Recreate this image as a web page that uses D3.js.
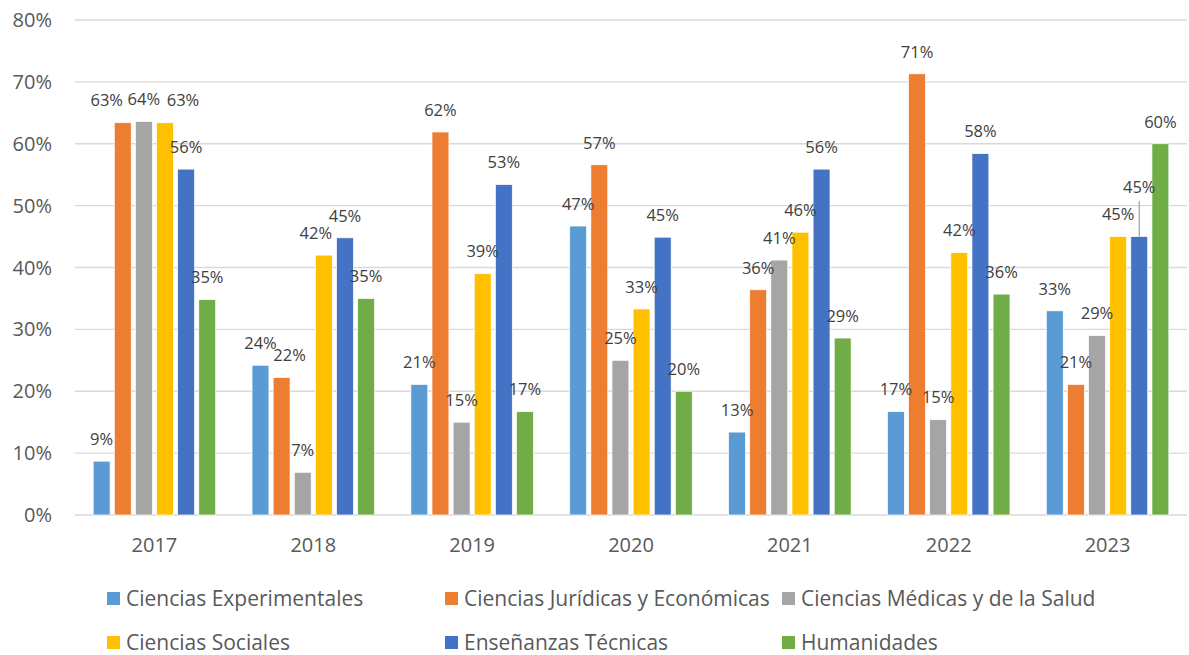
<!DOCTYPE html>
<html>
<head>
<meta charset="utf-8">
<script src="https://cdn.jsdelivr.net/npm/d3@7"></script>
<style>
  body { margin: 0; background: #fff; }
  svg text { font-family: "Open Sans", sans-serif; }
</style>
</head>
<body>
<script>
// Data
const years = ["2017", "2018", "2019", "2020", "2021", "2022", "2023"];
const seriesNames = [
  "Ciencias Experimentales",
  "Ciencias Jurídicas y Económicas",
  "Ciencias Médicas y de la Salud",
  "Ciencias Sociales",
  "Enseñanzas Técnicas",
  "Humanidades"
];
const experimentales = [0.087, 0.242, 0.211, 0.467, 0.134, 0.167, 0.330];
const juridicas      = [0.634, 0.222, 0.619, 0.566, 0.364, 0.713, 0.211];
const medicas        = [0.636, 0.069, 0.150, 0.250, 0.412, 0.154, 0.290];
const sociales       = [0.634, 0.420, 0.390, 0.333, 0.457, 0.424, 0.450];
const tecnicas       = [0.559, 0.448, 0.534, 0.449, 0.559, 0.584, 0.450];
const humanidades    = [0.348, 0.350, 0.167, 0.200, 0.286, 0.357, 0.600];
const yTicks = [0, 0.1, 0.2, 0.3, 0.4, 0.5, 0.6, 0.7, 0.8];

const colors = ["#5b9bd5", "#ed7d31", "#a5a5a5", "#ffc000", "#4472c4", "#70ad47"];
const allValues = [experimentales, juridicas, medicas, sociales, tecnicas, humanidades];

// label nudges where Excel moved labels to avoid overlap
const nudges = {
  "1-2017": { dx: -16, dy: 0 },
  "3-2017": { dx: 18, dy: 0 },
  "1-2018": { dx: 8, dy: 0 },
  "3-2018": { dx: -8, dy: 0 },
  "4-2023": { dx: 0, dy: -27, leader: true }
};

const svgWidth = 1189, svgHeight = 655;
const plot = { left: 75, right: 1187, top: 20, bottom: 515 };

const svg = d3.select("body").append("svg")
  .attr("width", svgWidth)
  .attr("height", svgHeight);

const y = d3.scaleLinear().domain([0, 0.8]).range([plot.bottom, plot.top]);
const x0 = d3.scaleBand().domain(years).range([plot.left, plot.right]).padding(0);
const x1 = d3.scaleBand().domain(d3.range(seriesNames.length))
  .range([0, x0.bandwidth()])
  .paddingInner(0.2)
  .paddingOuter(0.86);

const pct = d3.format(".0%");

// gridlines
svg.append("g").selectAll("line")
  .data(yTicks)
  .enter().append("line")
  .attr("x1", plot.left).attr("x2", plot.right)
  .attr("y1", d => y(d)).attr("y2", d => y(d))
  .attr("stroke", "#d9d9d9")
  .attr("stroke-width", 1.3);

// y tick labels
svg.append("g").selectAll("text")
  .data(yTicks)
  .enter().append("text")
  .attr("x", 52)
  .attr("y", d => y(d))
  .attr("dy", "0.35em")
  .attr("text-anchor", "end")
  .attr("font-size", 20)
  .attr("fill", "#595959")
  .text(d => pct(d));

// year labels
svg.append("g").selectAll("text")
  .data(years)
  .enter().append("text")
  .attr("x", d => x0(d) + x0.bandwidth() / 2)
  .attr("y", 545)
  .attr("dy", "0.35em")
  .attr("text-anchor", "middle")
  .attr("font-size", 20)
  .attr("fill", "#595959")
  .text(d => d);

// flatten into bar records
const bars = [];
allValues.forEach((vals, s) => {
  vals.forEach((v, i) => bars.push({ s: s, year: years[i], value: v }));
});

const barGroup = svg.append("g");
barGroup.selectAll("rect")
  .data(bars)
  .enter().append("rect")
  .attr("x", d => x0(d.year) + x1(d.s))
  .attr("y", d => y(d.value))
  .attr("width", x1.bandwidth())
  .attr("height", d => y(0) - y(d.value))
  .attr("fill", d => colors[d.s])
  .attr("stroke", "#fff")
  .attr("stroke-width", 0.7);

// leader lines
svg.append("g").selectAll("line")
  .data(bars.filter(d => nudges[d.s + "-" + d.year] && nudges[d.s + "-" + d.year].leader))
  .enter().append("line")
  .attr("x1", d => x0(d.year) + x1(d.s) + x1.bandwidth() / 2)
  .attr("x2", d => x0(d.year) + x1(d.s) + x1.bandwidth() / 2)
  .attr("y1", d => y(d.value) - 22 + nudges[d.s + "-" + d.year].dy + 13.5)
  .attr("y2", d => y(d.value))
  .attr("stroke", "#a6a6a6")
  .attr("stroke-width", 1.3);

// data labels
svg.append("g").selectAll("text")
  .data(bars)
  .enter().append("text")
  .attr("x", d => {
    const n = nudges[d.s + "-" + d.year];
    return x0(d.year) + x1(d.s) + x1.bandwidth() / 2 + (n ? n.dx : 0);
  })
  .attr("y", d => {
    const n = nudges[d.s + "-" + d.year];
    return y(d.value) - 22 + (n ? n.dy : 0);
  })
  .attr("dy", "0.35em")
  .attr("text-anchor", "middle")
  .attr("font-size", 16.5)
  .attr("fill", "#404040")
  .text(d => pct(d.value));

// legend, 3 columns x 2 rows
const legendCols = [107, 445, 782];
const legendRows = [599, 643];
const legend = svg.append("g").selectAll("g")
  .data(seriesNames)
  .enter().append("g")
  .attr("transform", (d, i) => `translate(${legendCols[i % 3]}, ${legendRows[Math.floor(i / 3)]})`);

legend.append("rect")
  .attr("x", 0).attr("y", -7)
  .attr("width", 13).attr("height", 13)
  .attr("fill", (d, i) => colors[i]);

legend.append("text")
  .attr("x", 19)
  .attr("y", 0)
  .attr("dy", "0.35em")
  .attr("font-size", 21)
  .attr("fill", "#595959")
  .text(d => d);
</script>
</body>
</html>
